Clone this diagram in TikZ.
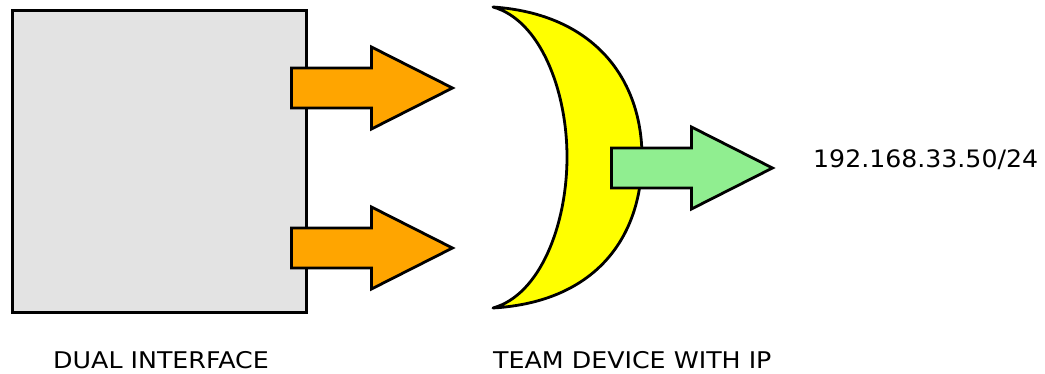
\documentclass[tikz,border=0pt]{standalone}
\usepackage{fontspec}
\setmainfont{DejaVu Sans}
\definecolor{boxgray}{HTML}{E3E3E3}
\definecolor{arrorange}{HTML}{FFA500}
\definecolor{moonyellow}{HTML}{FFFF00}
\definecolor{arrgreen}{HTML}{90EE90}
\tikzset{
  outline/.style={draw=black, line width=2.8pt, line join=miter},
  blockarrow/.pic={
    \path[pic actions] (0,-20) -- (80,-20) -- (80,-41) -- (161,0) -- (80,41) -- (80,20) -- (0,20) -- cycle;
  },
  lbl/.style={font=\fontsize{23}{27}\selectfont, inner sep=0pt, anchor=base west, xscale=1.1},
  iplabel/.style={font=\fontsize{24}{28}\selectfont, inner sep=0pt, anchor=base west, xscale=1.05}
}
\begin{document}
\begin{tikzpicture}[x=1pt,y=-1pt]
  \useasboundingbox (0,0) rectangle (1045,374);
  % dual interface box
  \node[outline, fill=boxgray, rectangle, minimum width=294pt, minimum height=302pt, inner sep=0pt, anchor=north west] (dual) at (11,9.5) {};
  % two orange arrows
  \pic[outline, fill=arrorange] at (291.5,88) {blockarrow};
  \pic[outline, fill=arrorange] at (291.5,248) {blockarrow};
  % team device crescent
  \draw[outline, line join=round, fill=moonyellow] (493,7)
    .. controls (595,14) and (642,80) .. (642,157)
    .. controls (642,238) and (595,302) .. (493,308)
    .. controls (540,295) and (567,225) .. (567,157)
    .. controls (567,90) and (540,20) .. (493,7) -- cycle;
  % green arrow
  \pic[outline, fill=arrgreen] at (611.5,168) {blockarrow};
  % labels
  \node[lbl] (duallbl) at (53,368) {DUAL INTERFACE};
  \node[lbl] (teamlbl) at (493,368) {TEAM DEVICE WITH IP};
  \node[iplabel] (iplbl) at (813,168) {192.168.33.50/24};
\end{tikzpicture}
\end{document}
